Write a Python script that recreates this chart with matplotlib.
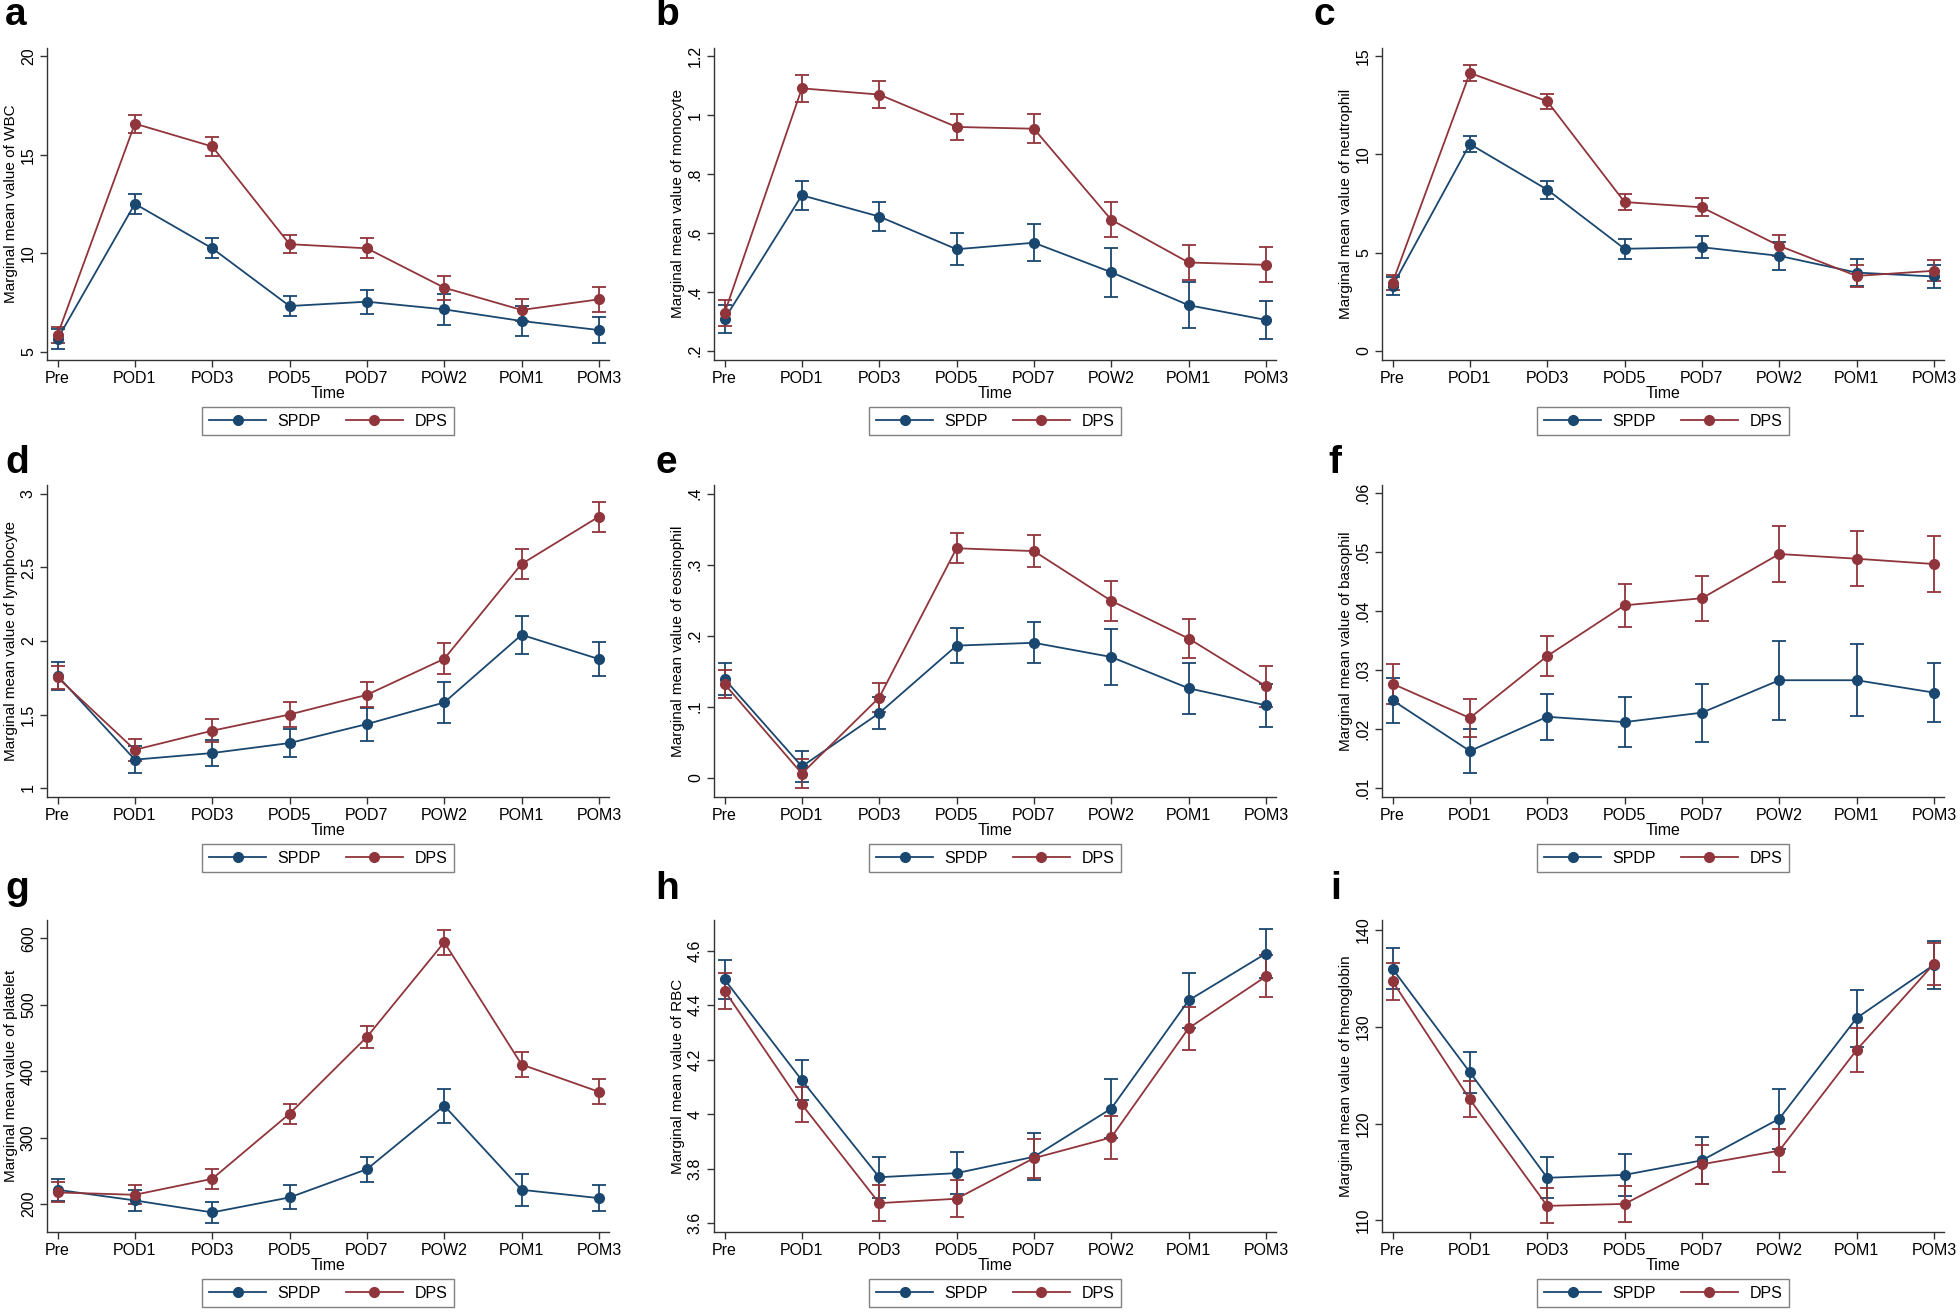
import matplotlib
matplotlib.use('Agg')
import matplotlib.pyplot as plt
from matplotlib.lines import Line2D

plt.rcParams['font.family'] = ['Liberation Sans', 'DejaVu Sans']

times = ['Pre', 'POD1', 'POD3', 'POD5', 'POD7', 'POW2', 'POM1', 'POM3']
groups = ['SPDP', 'DPS']

# a: WBC
wbc_spdp = [5.65, 12.51, 10.25, 7.32, 7.54, 7.15, 6.56, 6.10]
wbc_spdp_err = [0.50, 0.51, 0.51, 0.53, 0.61, 0.80, 0.76, 0.64]
wbc_dps = [5.85, 16.58, 15.42, 10.46, 10.25, 8.25, 7.12, 7.66]
wbc_dps_err = [0.42, 0.45, 0.46, 0.47, 0.50, 0.61, 0.58, 0.62]

# b: monocyte
mono_spdp = [0.308, 0.728, 0.656, 0.545, 0.567, 0.467, 0.355, 0.305]
mono_spdp_err = [0.049, 0.050, 0.050, 0.055, 0.063, 0.083, 0.078, 0.065]
mono_dps = [0.328, 1.091, 1.070, 0.960, 0.954, 0.645, 0.500, 0.492]
mono_dps_err = [0.044, 0.045, 0.045, 0.045, 0.049, 0.060, 0.059, 0.059]

# c: neutrophil
neut_spdp = [3.31, 10.53, 8.21, 5.20, 5.28, 4.84, 3.99, 3.79]
neut_spdp_err = [0.47, 0.42, 0.46, 0.50, 0.55, 0.72, 0.70, 0.60]
neut_dps = [3.48, 14.15, 12.71, 7.58, 7.31, 5.35, 3.82, 4.08]
neut_dps_err = [0.40, 0.39, 0.39, 0.42, 0.45, 0.54, 0.55, 0.53]

# d: lymphocyte
lymph_spdp = [1.763, 1.193, 1.238, 1.306, 1.435, 1.582, 2.042, 1.877]
lymph_spdp_err = [0.095, 0.090, 0.090, 0.096, 0.112, 0.138, 0.130, 0.113]
lymph_dps = [1.752, 1.260, 1.390, 1.500, 1.634, 1.879, 2.524, 2.846]
lymph_dps_err = [0.080, 0.075, 0.080, 0.082, 0.086, 0.104, 0.102, 0.102]

# e: eosinophil
eos_spdp = [0.139, 0.016, 0.091, 0.186, 0.190, 0.170, 0.126, 0.102]
eos_spdp_err = [0.022, 0.022, 0.023, 0.025, 0.029, 0.039, 0.036, 0.030]
eos_dps = [0.132, 0.006, 0.113, 0.323, 0.319, 0.249, 0.196, 0.129]
eos_dps_err = [0.020, 0.020, 0.021, 0.021, 0.023, 0.028, 0.028, 0.029]

# f: basophil
baso_spdp = [0.0249, 0.0163, 0.0221, 0.0212, 0.0228, 0.0283, 0.0283, 0.0262]
baso_spdp_err = [0.0038, 0.0037, 0.0039, 0.0042, 0.0049, 0.0067, 0.0061, 0.0050]
baso_dps = [0.0277, 0.0219, 0.0324, 0.0410, 0.0422, 0.0497, 0.0489, 0.0480]
baso_dps_err = [0.0034, 0.0033, 0.0034, 0.0036, 0.0038, 0.0047, 0.0047, 0.0047]

# g: platelet
plt_spdp = [221.5, 205.5, 187.5, 210, 252.5, 348, 221.5, 209]
plt_spdp_err = [16.5, 16, 16, 18, 19, 25.5, 24, 20]
plt_dps = [217.5, 214, 238, 336, 451.5, 594, 410, 369]
plt_dps_err = [15, 14.5, 15, 15, 16, 18.5, 18.5, 18.5]

# h: RBC
rbc_spdp = [4.494, 4.124, 3.768, 3.783, 3.843, 4.020, 4.417, 4.589]
rbc_spdp_err = [0.073, 0.074, 0.075, 0.077, 0.086, 0.107, 0.100, 0.089]
rbc_dps = [4.453, 4.035, 3.673, 3.689, 3.838, 3.914, 4.315, 4.505]
rbc_dps_err = [0.066, 0.065, 0.066, 0.068, 0.071, 0.079, 0.079, 0.077]

# i: hemoglobin
hb_spdp = [136.0, 125.3, 114.4, 114.7, 116.2, 120.5, 130.9, 136.4]
hb_spdp_err = [2.1, 2.1, 2.1, 2.2, 2.4, 3.1, 2.95, 2.5]
hb_dps = [134.7, 122.5, 111.5, 111.7, 115.8, 117.2, 127.6, 136.5]
hb_dps_err = [1.9, 1.85, 1.8, 1.9, 2.0, 2.2, 2.25, 2.2]

panels = [
    ('a', 'WBC', wbc_spdp, wbc_spdp_err, wbc_dps, wbc_dps_err,
     [5, 10, 15, 20], (4.58, 20.42)),
    ('b', 'monocyte', mono_spdp, mono_spdp_err, mono_dps, mono_dps_err,
     [0.2, 0.4, 0.6, 0.8, 1, 1.2], (0.169, 1.228)),
    ('c', 'neutrophil', neut_spdp, neut_spdp_err, neut_dps, neut_dps_err,
     [0, 5, 10, 15], (-0.46, 15.42)),
    ('d', 'lymphocyte', lymph_spdp, lymph_spdp_err, lymph_dps, lymph_dps_err,
     [1, 1.5, 2, 2.5, 3], (0.939, 3.061)),
    ('e', 'eosinophil', eos_spdp, eos_spdp_err, eos_dps, eos_dps_err,
     [0, 0.1, 0.2, 0.3, 0.4], (-0.027, 0.412)),
    ('f', 'basophil', baso_spdp, baso_spdp_err, baso_dps, baso_dps_err,
     [0.01, 0.02, 0.03, 0.04, 0.05, 0.06], (0.0085, 0.0614)),
    ('g', 'platelet', plt_spdp, plt_spdp_err, plt_dps, plt_dps_err,
     [200, 300, 400, 500, 600], (158, 627.5)),
    ('h', 'RBC', rbc_spdp, rbc_spdp_err, rbc_dps, rbc_dps_err,
     [3.6, 3.8, 4, 4.2, 4.4, 4.6], (3.567, 4.712)),
    ('i', 'hemoglobin', hb_spdp, hb_spdp_err, hb_dps, hb_dps_err,
     [110, 120, 130, 140], (108.8, 141.03)),
]

navy = '#1a476f'
maroon = '#90353b'
axis_col = '#333333'


def stata_fmt(v):
    s = f'{v:g}'
    if s.startswith('0.'):
        s = s[1:]
    return s


W, H = 1960, 1314
fig = plt.figure(figsize=(W / 100, H / 100), dpi=100)

lefts = [47, 714, 1382]
tops = [48, 485, 920]
letter_x = [[5, 655, 1313], [5, 655, 1328], [5, 655, 1330]]
letter_base = [25, 473, 899]
aw, ah = 562, 312

x = list(range(len(times)))

for k, (letter, name, s_val, s_err, d_val, d_err, yt, ylim) in enumerate(panels):
    r, c = divmod(k, 3)
    ax = fig.add_axes([lefts[c] / W, 1 - (tops[r] + ah) / H, aw / W, ah / H])
    handles = []
    for vals, errs, col, lab in [(s_val, s_err, navy, groups[0]),
                                 (d_val, d_err, maroon, groups[1])]:
        ax.errorbar(x, vals, yerr=errs, color=col, ecolor=col, lw=1.3,
                    elinewidth=1.3, capsize=5, capthick=1.3, marker='o',
                    markersize=7)
        handles.append(Line2D([], [], color=col, lw=1.3, marker='o',
                              markersize=7, label=lab))
    ax.set_xlim(-0.136, 7.13)
    ax.set_ylim(*ylim)
    ax.set_xticks(x)
    ax.set_xticklabels(times)
    ax.set_yticks(yt)
    ax.set_yticklabels([stata_fmt(v) for v in yt], rotation=90, va='center')
    ax.tick_params(axis='both', labelsize=11.5, length=5, width=1,
                   color=axis_col, pad=3)
    for sp in ['top', 'right']:
        ax.spines[sp].set_visible(False)
    for sp in ['left', 'bottom']:
        ax.spines[sp].set_color(axis_col)
        ax.spines[sp].set_linewidth(1)
    ax.set_xlabel('Time', fontsize=11.5, labelpad=0)
    ax.set_ylabel('Marginal mean value of ' + name, fontsize=11, labelpad=2)
    leg = ax.legend(handles=handles, loc='center', bbox_to_anchor=(0.5, -0.196),
                    ncol=2, fontsize=11.5, handlelength=3.6, handletextpad=0.7,
                    columnspacing=1.55, borderpad=0.4, fancybox=False,
                    framealpha=1, edgecolor='#808080')
    leg.get_frame().set_linewidth(1)
    fig.text(letter_x[r][c] / W, 1 - letter_base[r] / H, letter,
             fontsize=28, fontweight='bold', va='baseline', ha='left')

fig.savefig('out.png', dpi=100)
